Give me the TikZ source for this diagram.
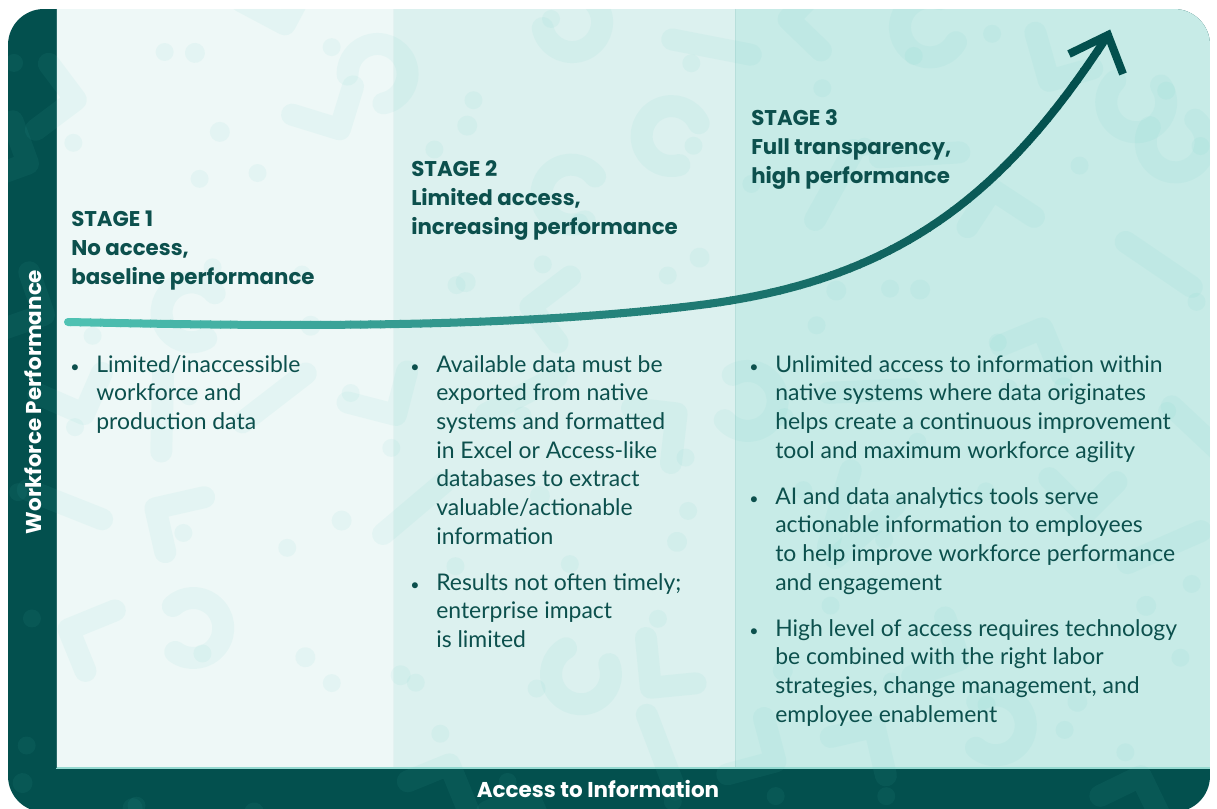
\documentclass[tikz,border=0pt]{standalone}
\usepackage{fontspec}
\setmainfont{Lato}
\newfontfamily\headfont{Poppins}
\definecolor{dk}{HTML}{03504E}
\definecolor{txt}{HTML}{0C504D}
\definecolor{pA}{HTML}{EEF8F7}
\definecolor{pB}{HTML}{DCF1EF}
\definecolor{pC}{HTML}{C7EBE7}
\definecolor{pat}{HTML}{51CABE}
\definecolor{cl}{HTML}{4FC2B3}
\newcommand\mlines[1]{\vtop{\baselineskip=21.5pt\lineskiplimit=-\maxdimen\halign{##\hfil\cr#1\crcr}}}
\newcommand\bul{\llap{{\fontsize{12}{12}\selectfont\textbullet}\hskip 12.5pt}}
\newcommand\curvepath{(68,322) .. controls (250,326) and (500,330) .. (700,305) .. controls (900,280) and (1005.5,193) .. (1108,35)}
\tikzset{
  head/.style={font=\headfont\bfseries\fontsize{16}{21.6}\selectfont, text=txt, inner sep=0pt, anchor=base west},
  body/.style={font=\fontsize{17.2}{21.5}\selectfont, text=txt, inner sep=0pt, anchor=base west},
  axislabel/.style={font=\headfont\bfseries\fontsize{16.1}{20}\selectfont, text=white, inner sep=0pt, anchor=base},
  patline/.style={draw=pat, draw opacity=0.065, line width=16.5pt, line cap=round, line join=round},
  patfill/.style={fill=pat, fill opacity=0.065},
  curve/.style={line width=6pt, line cap=round},
}
\begin{document}
\begin{tikzpicture}[x=0.75pt,y=-0.75pt]
\useasboundingbox (0,0) rectangle (1217,809);
\begin{scope}
  \clip[rounded corners=27pt] (8,9) rectangle (1210,812);
  \fill[dk] (8,9) rectangle (1210,812);
  \fill[pA] (56,9) rectangle (393,768);
  \fill[pB] (393,9) rectangle (735,768);
  \fill[pC] (735,9) rectangle (1210,768);
  \draw[line width=0.75pt, color=pB!85!dk!20!pA] (393,9) -- (393,768);
  \draw[line width=0.75pt, color=pC!92!dk] (735,9) -- (735,768);
  \draw[line width=0.9pt, color=cl!60!white] (56,768) -- (1210,768);
  \draw[line width=0.75pt, color=dk!85!white] (56,9) -- (56,768);
  \pgfmathsetseed{11}
  \foreach \gx in {0,...,9}{\foreach \gy in {0,...,6}{
    \pgfmathsetmacro\px{\gx*122+10+100*rnd}
    \pgfmathsetmacro\py{\gy*120+5+100*rnd}
    \pgfmathsetmacro\ang{360*rnd}
    \pgfmathtruncatemacro\kind{4*rnd}
    \begin{scope}[shift={(\px,\py)},rotate=\ang]
      \ifcase\kind\relax
        \fill[patfill] (0,0) circle[radius=10];
      \or \draw[patline] (-40,0) -- (40,0);
      \or \draw[patline] (0,-50) -- (0,0) -- (45,0);
      \or \draw[patline] (-30,0) arc[start angle=180,end angle=-80,radius=30];
      \fi
    \end{scope}
    \pgfmathsetmacro\qx{\gx*122+10+100*rnd}
    \pgfmathsetmacro\qy{\gy*120+5+100*rnd}
    \fill[patfill] (\qx,\qy) circle[radius=9];
  }}
\end{scope}
% gradient curve
\foreach \k in {0,...,106}{
  \pgfmathsetmacro\pc{min(100,\k)}
  \begin{scope}
    \clip (60+10*\k,0) rectangle (71+10*\k,809);
    \draw[curve, draw=dk!\pc!cl] \curvepath;
  \end{scope}
}
\coordinate (a1) at (1069,54);
\coordinate (tip) at (1108,35);
\coordinate (a2) at (1123,74);
\draw[dk, line width=6pt, line cap=butt, miter limit=10] (a1) -- (tip) -- (a2);
% headings
\node[head] (h1) at (71,227) {\mlines{STAGE 1\cr No access,\cr baseline performance}};
\node[head] (h2) at (411,177) {\mlines{STAGE 2\cr Limited access,\cr increasing performance}};
\node[head] (h3) at (751,126) {\mlines{STAGE 3\cr Full transparency,\cr high performance}};
% bullets
\node[body] (b11) at (96,372) {\mlines{\bul Limited/inaccessible\cr workforce and\cr production data}};
\node[body] (b21) at (436,372) {\mlines{\bul Available data must be\cr exported from native\cr systems and formatted\cr in Excel or Access-like\cr databases to extract\cr valuable/actionable\cr information}};
\node[body] (b22) at (436,590) {\mlines{\bul Results not often timely;\cr enterprise impact\cr is limited}};
\node[body] (b31) at (775,372) {\mlines{\bul Unlimited access to information within\cr native systems where data originates\cr helps create a continuous improvement\cr tool and maximum workforce agility}};
\node[body] (b32) at (775,504) {\mlines{\bul AI and data analytics tools serve\cr actionable information to employees\cr to help improve workforce performance\cr and engagement}};
\node[body] (b33) at (775,636) {\mlines{\bul High level of access requires technology\cr be combined with the right labor\cr strategies, change management, and\cr employee enablement}};
% axis labels
\node[axislabel] (xl) at (598,797) {Access to Information};
\node[axislabel, rotate=90] (yl) at (41,402) {Workforce Performance};
\end{tikzpicture}
\end{document}
